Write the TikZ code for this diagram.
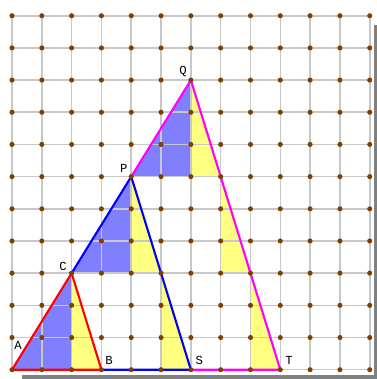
\documentclass[tikz,border=0pt]{standalone}
\usepackage{xcolor}
\usepackage{fontspec}
\setmonofont{Liberation Mono}
\usepackage{tikz}

\definecolor{dotbrown}{HTML}{7F3F00}
\definecolor{gridgray}{HTML}{C8C8C8}
\definecolor{fillblue}{HTML}{8080FF}
\definecolor{fillyellow}{HTML}{FFFF80}
\definecolor{edgemagenta}{HTML}{FF00FF}

\tikzset{
  gridline/.style={gridgray, line width=0.9pt},
  edge/.style={line width=1.2pt, line join=round},
  ptlabel/.style={font=\ttfamily\fontsize{7}{8}\selectfont, inner sep=0pt},
  shadowbar/.style={fill=gray}
}

\begin{document}
\begin{tikzpicture}[x=0.5962cm, y=0.6436cm]

    \useasboundingbox (-0.24cm,-0.186cm) rectangle (7.30cm,7.394cm);

    % shadow
    \fill[shadowbar] (7.24cm,-0.186cm) rectangle (7.30cm,6.894cm);
    \fill[shadowbar] (0.2cm,-0.186cm) rectangle (7.30cm,-0.106cm);

    % vertices
    \coordinate (A) at (0,0);
    \coordinate (B) at (3,0);
    \coordinate (C) at (2,3);
    \coordinate (P) at (4,6);
    \coordinate (Q) at (6,9);
    \coordinate (S) at (6,0);
    \coordinate (T) at (9,0);

    % blue pieces
    \fill[fillblue] (A) -- (2,0) -- (C) -- cycle;
    \fill[fillblue] (C) -- (4,3) -- (P) -- cycle;
    \fill[fillblue] (P) -- (6,6) -- (Q) -- cycle;

    % yellow pieces
    \fill[fillyellow] (2,0) -- (B) -- (C) -- cycle;
    \fill[fillyellow] (4,3) -- (5,3) -- (P) -- cycle;
    \fill[fillyellow] (5,0) -- (S) -- (5,3) -- cycle;
    \fill[fillyellow] (6,6) -- (7,6) -- (Q) -- cycle;
    \fill[fillyellow] (7,3) -- (8,3) -- (7,6) -- cycle;
    \fill[fillyellow] (8,0) -- (T) -- (8,3) -- cycle;

    % grid
    \foreach \x in {0,...,12}
      \draw[gridline] (\x,0) -- (\x,11);
    \foreach \y in {0,...,11}
      \draw[gridline] (0,\y) -- (12,\y);

    % triangles
    \draw[edge, edgemagenta] (S) -- (T) -- (Q) -- (P);
    \draw[edge, blue] (B) -- (S) -- (P) -- (C);
    \draw[edge, red] (A) -- (B) -- (C) -- cycle;

    % lattice points
    \foreach \x in {0,...,12}
      \foreach \y in {0,...,11}
        \fill[dotbrown] (\x,\y) circle [radius=1.45pt];

    % labels
    \node[ptlabel] (labA) at (0.201,0.768) {A};
    \node[ptlabel] (labB) at (3.254,0.280) {B};
    \node[ptlabel] (labC) at (1.711,3.213) {C};
    \node[ptlabel] (labP) at (3.747,6.259) {P};
    \node[ptlabel] (labQ) at (5.736,9.273) {Q};
    \node[ptlabel] (labS) at (6.283,0.280) {S};
    \node[ptlabel] (labT) at (9.292,0.280) {T};

\end{tikzpicture}
\end{document}
